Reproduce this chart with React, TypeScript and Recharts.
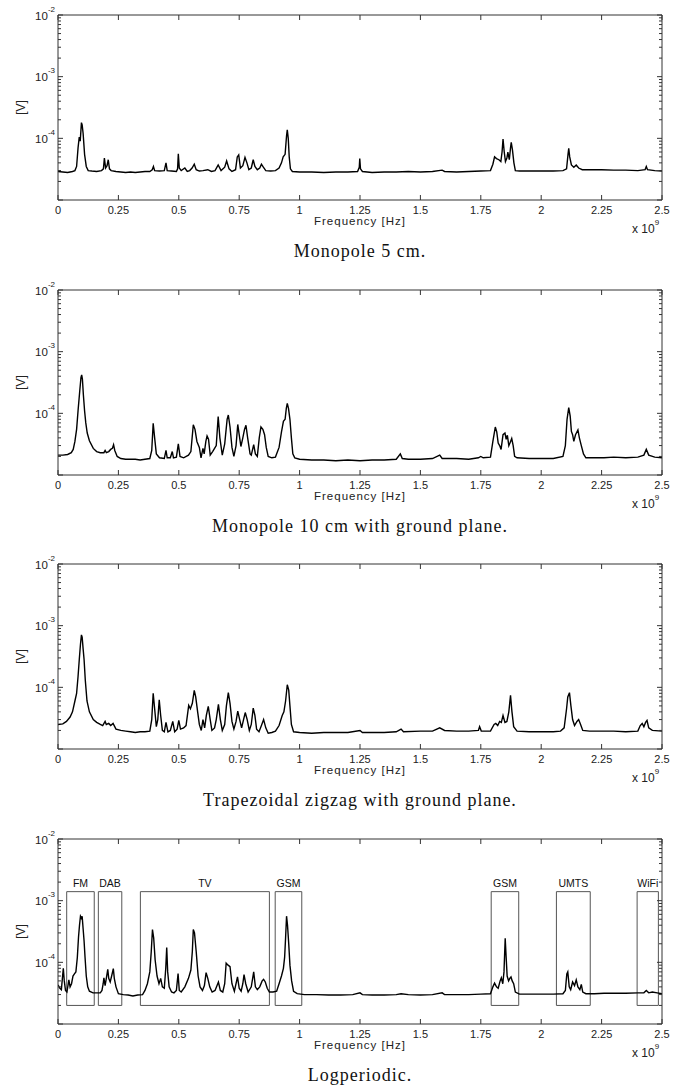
import React from "react";
import { LineChart, Line, XAxis, YAxis, ReferenceArea } from "recharts";

// each point: [frequency in GHz (axis shows x 10^9 Hz), amplitude in µV]
type Pt = [number, number];

const freqTicks = [0, 0.25, 0.5, 0.75, 1, 1.25, 1.5, 1.75, 2, 2.25, 2.5];
const decadeTicks = [1e-5, 1e-4, 1e-3, 1e-2];
const minorTicks = [
  2e-5, 3e-5, 4e-5, 5e-5, 6e-5, 7e-5, 8e-5, 9e-5,
  2e-4, 3e-4, 4e-4, 5e-4, 6e-4, 7e-4, 8e-4, 9e-4,
  2e-3, 3e-3, 4e-3, 5e-3, 6e-3, 7e-3, 8e-3, 9e-3,
];

const monopole5: Pt[] = [
  [0, 29], [0.02, 28.5], [0.04, 28], [0.06, 29], [0.07, 30], [0.077, 35], [0.083, 70], [0.088, 105],
  [0.092, 90], [0.097, 180], [0.1, 165], [0.104, 120], [0.11, 55], [0.117, 35], [0.125, 30], [0.14, 29.5],
  [0.16, 29], [0.18, 30], [0.188, 32], [0.192, 48], [0.197, 33], [0.203, 36], [0.208, 45], [0.213, 32],
  [0.22, 30], [0.24, 29], [0.26, 28.5], [0.28, 28], [0.3, 28.5], [0.32, 28], [0.34, 28.5], [0.36, 29],
  [0.38, 29], [0.39, 31], [0.395, 35], [0.4, 30], [0.42, 29.5], [0.44, 30], [0.447, 40], [0.452, 30],
  [0.47, 29.5], [0.49, 29], [0.495, 32], [0.498, 56], [0.502, 33], [0.51, 30], [0.525, 33], [0.535, 29],
  [0.545, 30], [0.555, 33], [0.564, 38], [0.572, 31], [0.585, 29.5], [0.6, 30], [0.62, 31], [0.635, 29],
  [0.65, 30], [0.663, 37], [0.675, 30], [0.69, 34], [0.698, 43], [0.708, 32], [0.72, 29], [0.735, 31],
  [0.742, 50], [0.748, 54], [0.755, 33], [0.765, 36], [0.774, 49], [0.782, 40], [0.79, 31], [0.8, 33],
  [0.808, 45], [0.815, 35], [0.825, 31], [0.835, 33], [0.842, 38], [0.85, 34], [0.86, 30], [0.88, 29.5],
  [0.9, 30], [0.915, 33], [0.925, 40], [0.932, 50], [0.94, 55], [0.946, 110], [0.949, 137], [0.953, 100],
  [0.957, 50], [0.962, 32], [0.97, 29], [1.0, 28.5], [1.05, 28.5], [1.1, 28], [1.15, 28.5], [1.2, 28.5],
  [1.24, 29], [1.247, 34], [1.249, 47], [1.252, 32], [1.26, 29], [1.3, 28], [1.35, 28.5], [1.4, 28.5],
  [1.45, 29], [1.5, 28.5], [1.55, 29], [1.59, 30.5], [1.6, 29], [1.65, 28.5], [1.7, 29], [1.75, 29.5],
  [1.79, 30], [1.8, 38], [1.807, 50], [1.815, 47], [1.825, 45], [1.833, 42], [1.838, 60], [1.842, 97],
  [1.847, 60], [1.852, 42], [1.858, 48], [1.862, 60], [1.868, 45], [1.873, 70], [1.876, 86], [1.881, 65],
  [1.887, 40], [1.893, 30], [1.91, 29.5], [1.95, 29.5], [2.0, 29.5], [2.05, 29.5], [2.09, 30], [2.105, 32],
  [2.111, 55], [2.114, 69], [2.118, 50], [2.125, 37], [2.135, 34], [2.145, 37], [2.155, 33], [2.17, 31],
  [2.2, 31], [2.25, 31], [2.3, 30.5], [2.35, 30.5], [2.4, 30], [2.43, 31], [2.435, 35], [2.44, 31],
  [2.47, 30], [2.5, 29.5],
];

const monopole10: Pt[] = [
  [0, 21], [0.02, 21], [0.04, 21.5], [0.055, 23], [0.063, 26], [0.07, 35], [0.077, 55], [0.083, 110],
  [0.09, 230], [0.095, 380], [0.098, 420], [0.101, 360], [0.105, 200], [0.11, 110], [0.115, 70], [0.121, 48],
  [0.13, 36], [0.146, 27], [0.16, 24], [0.175, 23], [0.19, 23], [0.195, 25], [0.2, 23], [0.21, 24],
  [0.218, 26], [0.225, 27], [0.23, 31], [0.235, 25], [0.245, 20], [0.26, 18.5], [0.28, 18], [0.3, 18],
  [0.32, 18], [0.34, 17.5], [0.36, 18], [0.38, 18.5], [0.388, 25], [0.394, 69], [0.4, 40], [0.407, 22],
  [0.42, 19], [0.44, 18.5], [0.447, 25], [0.452, 19], [0.465, 19], [0.473, 24], [0.478, 19], [0.49, 19.5],
  [0.498, 32], [0.505, 20], [0.52, 19], [0.54, 21], [0.55, 24], [0.56, 65], [0.567, 55], [0.575, 35],
  [0.585, 28], [0.592, 19], [0.6, 27], [0.605, 22], [0.612, 35], [0.617, 43], [0.623, 38], [0.63, 21],
  [0.64, 24], [0.648, 27], [0.655, 30], [0.663, 89], [0.67, 40], [0.68, 21], [0.69, 32], [0.7, 80],
  [0.705, 94], [0.712, 60], [0.72, 28], [0.728, 20], [0.737, 30], [0.744, 66], [0.75, 45], [0.757, 29],
  [0.765, 40], [0.772, 55], [0.778, 64], [0.785, 40], [0.795, 22], [0.8, 21], [0.81, 31], [0.817, 22],
  [0.825, 20], [0.833, 40], [0.84, 60], [0.848, 55], [0.855, 45], [0.862, 28], [0.87, 20], [0.885, 19],
  [0.9, 19.5], [0.915, 28], [0.925, 50], [0.933, 74], [0.94, 80], [0.945, 120], [0.949, 145], [0.954, 120],
  [0.96, 80], [0.966, 40], [0.972, 22], [0.98, 19], [1.0, 18], [1.05, 17.5], [1.1, 17.5], [1.15, 17],
  [1.2, 17.5], [1.25, 17], [1.3, 17.5], [1.35, 17.5], [1.4, 18], [1.417, 22], [1.425, 18.5], [1.45, 18],
  [1.5, 18], [1.55, 18.5], [1.58, 21], [1.59, 18.5], [1.65, 18.5], [1.7, 18], [1.74, 19], [1.75, 20],
  [1.76, 19], [1.79, 19.5], [1.8, 35], [1.81, 60], [1.816, 50], [1.822, 33], [1.828, 30], [1.834, 26],
  [1.842, 45], [1.85, 48], [1.855, 38], [1.86, 44], [1.866, 30], [1.872, 34], [1.878, 39], [1.884, 30],
  [1.89, 20], [1.9, 19], [1.95, 18.5], [2.0, 18.5], [2.05, 18.5], [2.09, 20], [2.1, 30], [2.107, 80],
  [2.114, 124], [2.12, 90], [2.125, 51], [2.13, 45], [2.135, 35], [2.142, 45], [2.152, 54], [2.158, 40],
  [2.166, 30], [2.175, 22], [2.185, 19], [2.22, 19], [2.26, 19], [2.3, 19.5], [2.35, 19], [2.4, 19.5],
  [2.425, 21], [2.435, 26], [2.445, 21], [2.47, 19.5], [2.5, 19],
];

const zigzag: Pt[] = [
  [0, 25], [0.02, 25.5], [0.035, 28], [0.05, 33], [0.06, 40], [0.07, 60], [0.077, 80], [0.083, 150],
  [0.088, 280], [0.093, 500], [0.097, 710], [0.1, 650], [0.104, 420], [0.108, 280], [0.113, 130], [0.12, 60],
  [0.13, 40], [0.146, 30], [0.16, 27], [0.175, 25], [0.185, 24], [0.195, 28], [0.2, 25], [0.21, 26],
  [0.218, 24], [0.228, 26], [0.24, 21], [0.26, 20], [0.28, 19.5], [0.3, 19], [0.32, 18.5], [0.34, 19],
  [0.36, 19], [0.38, 19.5], [0.388, 30], [0.394, 80], [0.4, 45], [0.407, 23], [0.413, 30], [0.419, 63],
  [0.425, 35], [0.432, 20], [0.44, 19], [0.447, 27], [0.455, 19], [0.465, 20], [0.475, 28], [0.483, 19],
  [0.493, 21], [0.5, 29], [0.507, 21], [0.52, 22], [0.53, 24], [0.541, 51], [0.548, 45], [0.556, 55],
  [0.564, 89], [0.57, 70], [0.578, 40], [0.585, 25], [0.593, 20], [0.6, 30], [0.607, 22], [0.614, 35],
  [0.622, 49], [0.63, 30], [0.637, 20], [0.648, 22], [0.655, 30], [0.664, 53], [0.672, 30], [0.68, 20],
  [0.69, 25], [0.697, 50], [0.705, 82], [0.712, 55], [0.72, 28], [0.728, 21], [0.737, 28], [0.744, 41],
  [0.752, 30], [0.76, 22], [0.768, 30], [0.775, 39], [0.783, 30], [0.792, 20], [0.8, 25], [0.808, 46],
  [0.815, 35], [0.822, 21], [0.832, 19], [0.842, 24], [0.851, 30], [0.86, 22], [0.87, 18], [0.885, 18.5],
  [0.9, 19.5], [0.915, 24], [0.928, 35], [0.935, 40], [0.942, 60], [0.949, 110], [0.955, 90], [0.96, 50],
  [0.966, 25], [0.975, 19], [1.0, 18.5], [1.05, 18], [1.1, 18.5], [1.15, 18.5], [1.2, 18.5], [1.25, 20],
  [1.26, 18.5], [1.3, 18.5], [1.35, 18.5], [1.4, 19], [1.42, 21], [1.43, 19], [1.5, 19.5], [1.55, 19.5],
  [1.58, 22], [1.6, 20], [1.65, 19.5], [1.7, 19.5], [1.74, 20], [1.745, 23], [1.752, 19.5], [1.79, 19.5],
  [1.805, 25], [1.812, 26], [1.82, 24], [1.828, 28], [1.835, 27], [1.842, 35], [1.85, 27], [1.858, 28],
  [1.866, 40], [1.873, 74], [1.879, 40], [1.886, 23], [1.9, 19.5], [1.95, 19], [2.0, 19], [2.05, 19],
  [2.08, 19.5], [2.095, 22], [2.105, 45], [2.11, 70], [2.117, 82], [2.123, 50], [2.13, 30], [2.138, 24],
  [2.148, 28], [2.155, 30], [2.163, 25], [2.172, 20], [2.2, 19.5], [2.25, 19.5], [2.3, 19.5], [2.35, 19],
  [2.4, 19.5], [2.41, 24], [2.418, 26], [2.425, 23], [2.432, 27], [2.438, 29], [2.445, 22], [2.46, 20],
  [2.5, 19.5],
];

const logperiodic: Pt[] = [
  [0, 43], [0.008, 38], [0.014, 36], [0.019, 60], [0.022, 80], [0.026, 50], [0.031, 35], [0.037, 33],
  [0.045, 52], [0.05, 40], [0.056, 45], [0.062, 60], [0.068, 65], [0.074, 70], [0.08, 120], [0.085, 260],
  [0.089, 400], [0.093, 560], [0.097, 520], [0.1, 560], [0.104, 350], [0.108, 220], [0.112, 120], [0.117, 60],
  [0.123, 40], [0.13, 34], [0.145, 32], [0.16, 32], [0.175, 32], [0.182, 35], [0.187, 45], [0.19, 56],
  [0.195, 42], [0.2, 55], [0.206, 77], [0.21, 55], [0.216, 48], [0.222, 60], [0.229, 79], [0.233, 55],
  [0.24, 40], [0.25, 31], [0.27, 30], [0.29, 29.5], [0.31, 28.5], [0.33, 29.5], [0.35, 30], [0.36, 35],
  [0.37, 45], [0.38, 70], [0.386, 150], [0.391, 340], [0.396, 250], [0.402, 110], [0.41, 60], [0.418, 45],
  [0.425, 55], [0.432, 40], [0.44, 38], [0.446, 80], [0.45, 174], [0.454, 70], [0.46, 40], [0.47, 33],
  [0.48, 32], [0.49, 35], [0.497, 66], [0.502, 35], [0.51, 33], [0.525, 40], [0.54, 55], [0.55, 75],
  [0.556, 150], [0.56, 340], [0.565, 300], [0.572, 150], [0.58, 60], [0.588, 40], [0.598, 35], [0.606, 42],
  [0.613, 68], [0.62, 55], [0.628, 40], [0.638, 33], [0.65, 35], [0.664, 48], [0.672, 35], [0.682, 33],
  [0.69, 45], [0.696, 97], [0.704, 90], [0.712, 85], [0.72, 45], [0.73, 34], [0.743, 58], [0.75, 38],
  [0.758, 34], [0.765, 45], [0.77, 63], [0.777, 45], [0.787, 33], [0.8, 40], [0.81, 70], [0.817, 40],
  [0.825, 36], [0.835, 40], [0.845, 50], [0.851, 53], [0.858, 48], [0.866, 38], [0.875, 33], [0.89, 33],
  [0.905, 34], [0.915, 45], [0.925, 60], [0.933, 80], [0.938, 120], [0.942, 250], [0.946, 560], [0.95, 400],
  [0.955, 200], [0.96, 90], [0.967, 50], [0.975, 34], [0.99, 31], [1.02, 30], [1.07, 30], [1.12, 29.5],
  [1.17, 29.5], [1.22, 30], [1.25, 32], [1.26, 30], [1.3, 29.5], [1.35, 29.5], [1.4, 30], [1.42, 31],
  [1.45, 30], [1.5, 29.5], [1.55, 30], [1.59, 32], [1.6, 30], [1.65, 30], [1.7, 30], [1.75, 30.5],
  [1.79, 31], [1.8, 40], [1.807, 46], [1.815, 40], [1.822, 38], [1.83, 50], [1.835, 56], [1.841, 45],
  [1.846, 70], [1.851, 245], [1.855, 120], [1.859, 60], [1.865, 50], [1.87, 55], [1.875, 58], [1.88, 50],
  [1.886, 45], [1.893, 33], [1.91, 30.5], [1.95, 30.5], [2.0, 30.5], [2.05, 30.5], [2.09, 31], [2.1, 35],
  [2.106, 65], [2.11, 70], [2.116, 40], [2.122, 36], [2.13, 48], [2.138, 42], [2.145, 52], [2.152, 40],
  [2.16, 36], [2.166, 44], [2.172, 33], [2.185, 31], [2.22, 31], [2.26, 31.5], [2.3, 31.5], [2.35, 31.5],
  [2.4, 32], [2.425, 32], [2.435, 35], [2.445, 32], [2.46, 33], [2.48, 32], [2.5, 31],
];

// frequency bands marked on the log-periodic spectrum (GHz)
const bandNames = ["FM", "DAB", "TV", "GSM", "GSM", "UMTS", "WiFi"];
const bandStart = [0.036, 0.167, 0.341, 0.899, 1.793, 2.063, 2.397];
const bandEnd = [0.15, 0.264, 0.875, 1.009, 1.907, 2.203, 2.485];
const bandRange = [2e-5, 1.4e-3]; // V

const W = 686;
const H = 275;
const sans = "'Liberation Sans', Arial, Helvetica, sans-serif";
const frame = "#333";

const BottomTick = (p: any) => (
  <g>
    <line x1={p.x} x2={p.x} y1={p.y} y2={p.y - 5} stroke={frame} />
    <text x={p.x} y={p.y + 13.5} textAnchor="middle" fontSize={11} fontFamily={sans} fill="#222">
      {String(p.payload.value)}
    </text>
  </g>
);

const TopTick = (p: any) => (
  <line x1={p.x} x2={p.x} y1={p.y} y2={p.y + 5} stroke={frame} />
);

const isDecade = (v: number) => decadeTicks.includes(v);

const LeftTick = (p: any) => {
  const v = p.payload.value;
  const major = isDecade(v);
  const exp = Math.round(Math.log10(v));
  return (
    <g>
      <line x1={p.x} x2={p.x + (major ? 5 : 3)} y1={p.y} y2={p.y} stroke={frame} />
      {major && exp > -5 && (
        <text x={p.x - 3} y={p.y + 4.5} textAnchor="end" fontSize={11.5} fontFamily={sans} fill="#222">
          10
          <tspan dy={-8} fontSize={8}>
            {String(exp)}
          </tspan>
        </text>
      )}
    </g>
  );
};

const RightTick = (p: any) => {
  const major = isDecade(p.payload.value);
  return <line x1={p.x} x2={p.x - (major ? 5 : 3)} y1={p.y} y2={p.y} stroke={frame} />;
};

function Panel({ points, caption, top, bands }: { points: Pt[]; caption: string; top: number; bands?: boolean }) {
  const data = points.map(([f, uv]) => ({ f, v: uv * 1e-6 }));
  const yTicks = [...decadeTicks, ...minorTicks];
  return (
    <div style={{ position: "absolute", left: 0, top, width: W, height: H }}>
      <LineChart width={W} height={H} data={data} margin={{ top: 14, right: 23, bottom: 45, left: 57 }}>
        <XAxis
          dataKey="f"
          type="number"
          domain={[0, 2.5]}
          allowDataOverflow
          ticks={freqTicks}
          interval={0}
          height={30}
          tickSize={0}
          tickMargin={0}
          stroke={frame}
          tick={(p: any) => <BottomTick {...p} />}
        />
        <XAxis
          xAxisId="top"
          orientation="top"
          dataKey="f"
          type="number"
          domain={[0, 2.5]}
          allowDataOverflow
          ticks={freqTicks}
          interval={0}
          height={1}
          tickSize={0}
          tickMargin={0}
          stroke={frame}
          tick={(p: any) => <TopTick {...p} />}
        />
        <YAxis
          type="number"
          scale="log"
          domain={[1e-5, 1e-2]}
          allowDataOverflow
          ticks={yTicks}
          interval={0}
          width={1}
          tickSize={0}
          tickMargin={0}
          stroke={frame}
          tick={(p: any) => <LeftTick {...p} />}
        />
        <YAxis
          yAxisId="right"
          orientation="right"
          type="number"
          scale="log"
          domain={[1e-5, 1e-2]}
          allowDataOverflow
          ticks={yTicks}
          interval={0}
          width={1}
          tickSize={0}
          tickMargin={0}
          stroke={frame}
          tick={(p: any) => <RightTick {...p} />}
        />
        {bands &&
          bandNames.map((name, i) => (
            <ReferenceArea
              key={i}
              x1={bandStart[i]}
              x2={bandEnd[i]}
              y1={bandRange[0]}
              y2={bandRange[1]}
              fill="none"
              stroke="#555"
              strokeWidth={1}
              label={{ value: name, position: "top", offset: 5, fontSize: 10.5, fontFamily: sans, fill: "#111" }}
            />
          ))}
        <Line
          dataKey="v"
          type="linear"
          stroke="#000"
          strokeWidth={1.4}
          dot={false}
          isAnimationActive={false}
        />
      </LineChart>
      <svg width={W} height={H} style={{ position: "absolute", left: 0, top: 0, pointerEvents: "none" }}>
        <text x={25} y={107.5} transform="rotate(-90 25 107.5)" textAnchor="middle" fontSize={12} fontFamily={sans} fill="#222">
          [V]
        </text>
        <text x={360} y={225} textAnchor="middle" fontSize={11.5} letterSpacing={1} fontFamily={sans} fill="#222">
          Frequency [Hz]
        </text>
        <text x={632} y={233} fontSize={12} fontFamily={sans} fill="#222">
          x 10
          <tspan dy={-8} fontSize={8}>9</tspan>
        </text>
        <text
          x={360}
          y={257}
          textAnchor="middle"
          fontSize={18}
          letterSpacing={1}
          fontFamily="'Liberation Serif', 'Times New Roman', serif"
          fill="#111"
        >
          {caption}
        </text>
      </svg>
    </div>
  );
}

export default function App() {
  return (
    <div style={{ position: "absolute", left: 0, top: 0, width: W, height: 1091, background: "#fff" }}>
      <Panel points={monopole5} caption="Monopole 5 cm." top={0} />
      <Panel points={monopole10} caption="Monopole 10 cm with ground plane." top={275} />
      <Panel points={zigzag} caption="Trapezoidal zigzag with ground plane." top={549} />
      <Panel points={logperiodic} caption="Logperiodic." top={824} bands />
    </div>
  );
}
